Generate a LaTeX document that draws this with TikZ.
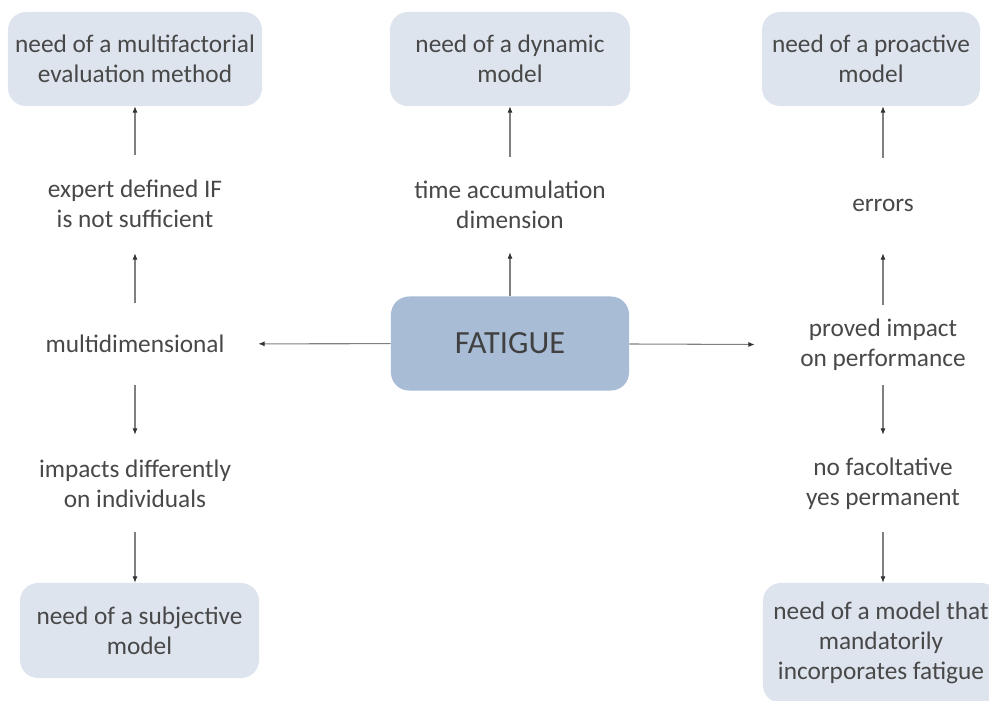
\documentclass[tikz,border=0pt]{standalone}
\usepackage{fontspec}
\setmainfont{Carlito}
\usetikzlibrary{arrows.meta}
\definecolor{boxlight}{RGB}{221,228,238}
\definecolor{boxdark}{RGB}{168,188,214}
\definecolor{txt}{RGB}{72,72,72}
\begin{document}
\begin{tikzpicture}[x=0.025cm,y=-0.025cm]
		\tikzset{need/.style = {shape=rectangle,rounded corners=0.45cm,fill=boxlight,text=txt,align=center,font=\fontsize{18}{21.3}\selectfont}}
		\tikzset{lbl/.style = {inner sep=0pt,text=txt,align=center,font=\fontsize{18}{21.3}\selectfont}}
		\tikzset{edge/.style = {-{Latex[length=4.5pt,width=3.6pt,color=black!80]},draw=black!50,line width=0.75pt}}
		\useasboundingbox (0,0) rectangle (989,700);
		\clip (0,0) rectangle (989,700);
		\node[need,minimum width=6.35cm,minimum height=2.35cm] (multi) at (135,59) {need of a multifactorial\\evaluation method};
		\node[need,minimum width=6.0cm,minimum height=2.35cm] (dyn) at (510,59) {need of a dynamic\\model};
		\node[need,minimum width=5.45cm,minimum height=2.35cm] (proact) at (871,59) {need of a proactive\\model};
		\node[need,minimum width=5.975cm,minimum height=2.375cm] (subj) at (139.5,630.5) {need of a subjective\\model};
		\node[need,minimum width=5.9cm,minimum height=3.0cm] (mand) at (881,643) {need of a model that\\mandatorily\\incorporates fatigue};
		\node[need,fill=boxdark,text=black!75,minimum width=5.95cm,minimum height=2.35cm,font=\fontsize{23}{26}\selectfont] (fat) at (510,343.5) {FATIGUE};
		\node[lbl,minimum height=2.45cm] (expert) at (135,204) {expert defined IF\\is not sufficient};
		\node[lbl,minimum height=2.05cm,minimum width=6.15cm] (dim) at (135,344) {multidimensional};
		\node[lbl,minimum height=2.425cm] (indiv) at (135,483.5) {impacts differently\\on individuals};
		\node[lbl,minimum height=2.375cm] (time) at (510,204.5) {time accumulation\\dimension};
		\node[lbl,minimum height=2.375cm] (err) at (883,205.5) {errors};
		\node[lbl,minimum height=2.0cm,minimum width=6.4cm] (perf) at (883,345) {proved impact\\on performance};
		\node[lbl,minimum height=2.425cm] (perm) at (883,483.5) {no facoltative\\yes permanent};
		% left branch
		\path[edge] (fat) edge (dim);
		\path[edge] (dim) edge (expert);
		\path[edge] (expert) edge (multi);
		\path[edge] (dim) edge (indiv);
		\path[edge] (indiv) edge (subj.north -| indiv);
		% middle branch
		\path[edge] (fat) edge (time);
		\path[edge] (time) edge (dyn);
		% right branch
		\path[edge] (fat) edge (perf);
		\path[edge] (perf) edge (err);
		\path[edge] (err) edge (proact.south -| err);
		\path[edge] (perf) edge (perm);
		\path[edge] (perm) edge (mand.north -| perm);
	\end{tikzpicture}
\end{document}
